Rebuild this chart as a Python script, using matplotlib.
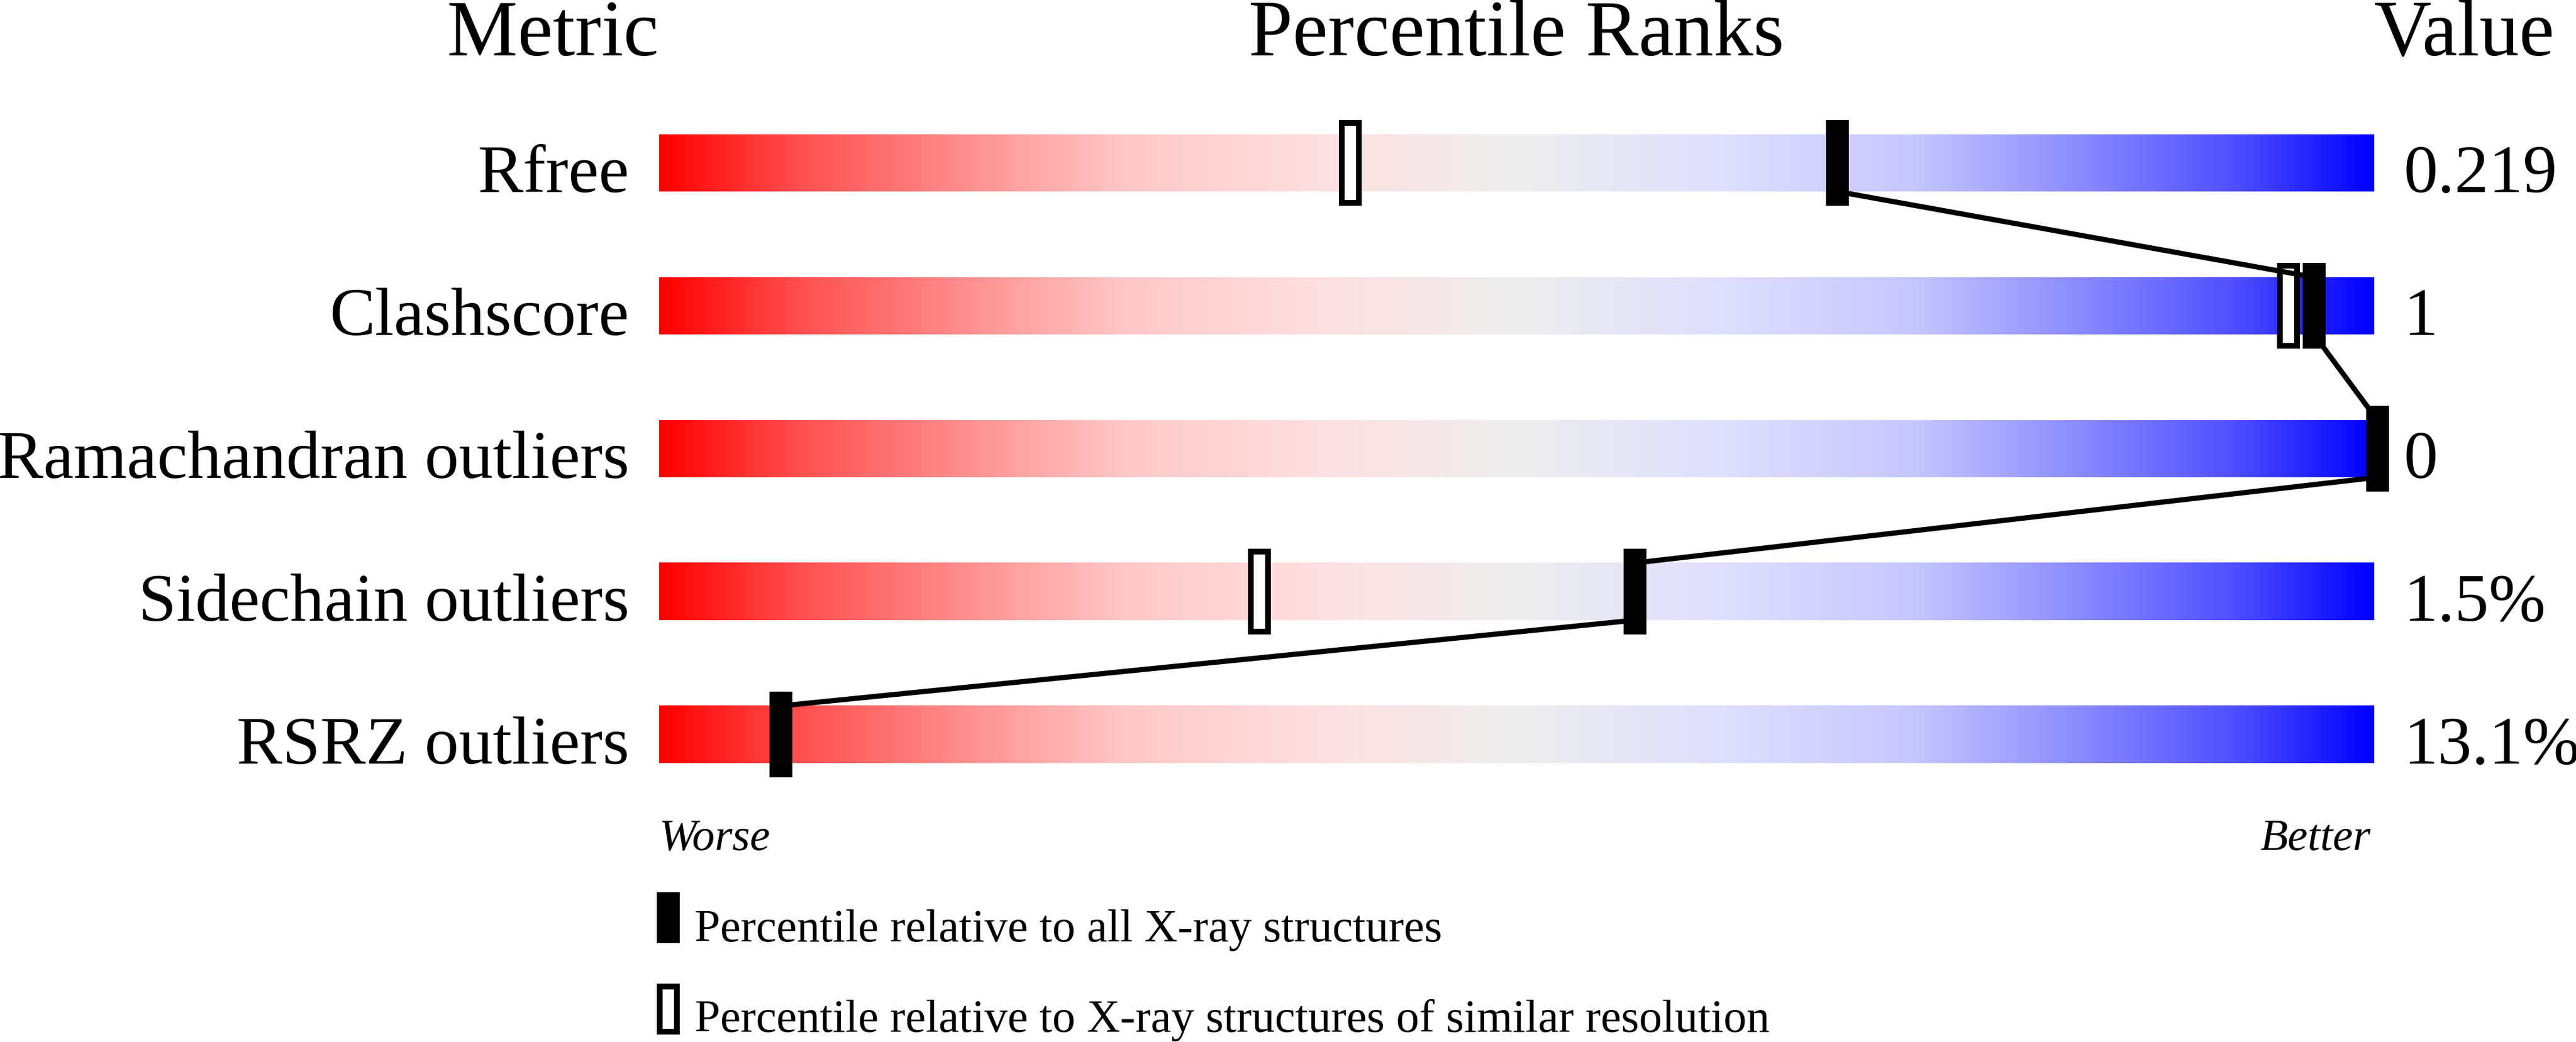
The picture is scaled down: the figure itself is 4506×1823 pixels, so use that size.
import numpy as np
import matplotlib
matplotlib.use("Agg")
import matplotlib.pyplot as plt
from matplotlib.colors import LinearSegmentedColormap
from matplotlib.patches import Rectangle

# %% data
metrics = ["Rfree", "Clashscore", "Ramachandran outliers",
           "Sidechain outliers", "RSRZ outliers"]
values = ["0.219", "1", "0", "1.5%", "13.1%"]
pct_all = [68.7, 96.5, 100.2, 56.9, 7.1]        # all X-ray structures
pct_res = [40.3, 95.0, None, 35.0, None]        # similar resolution
headers = ["Metric", "Percentile Ranks", "Value"]
legend_labels = ["Percentile relative to all X-ray structures",
                 "Percentile relative to X-ray structures of similar resolution"]

plt.rcParams['font.family'] = ['Liberation Serif', 'DejaVu Serif']

W, H, dpi = 4506, 1824, 100
fig = plt.figure(figsize=(W / dpi, H / dpi), dpi=dpi)
# axes spans the slider bars: x 0..100 percentile, one row per metric
bar_l, bar_r, row0, row_h = 1152.5, 4152.5, 286, 250
ax = fig.add_axes([bar_l / W, 1 - (row0 + 4.5 * row_h) / H,
                   (bar_r - bar_l) / W, 5 * row_h / H])
ax.set_xlim(0, 100)
ax.set_ylim(4.5, -0.5)
ax.axis('off')

px = 100 / (bar_r - bar_l)   # one pixel in x data units
py = 1 / row_h               # one pixel in y data units

cmap = LinearSegmentedColormap.from_list("slider", [
    (0.00, (1.00, 0.00, 0.00)),
    (0.08, (1.00, 0.31, 0.31)),
    (0.19, (1.00, 0.59, 0.59)),
    (0.27, (1.00, 0.78, 0.78)),
    (0.38, (1.00, 0.875, 0.88)),
    (0.50, (0.933, 0.933, 0.933)),
    (0.62, (0.875, 0.875, 1.00)),
    (0.73, (0.78, 0.78, 1.00)),
    (0.81, (0.59, 0.59, 1.00)),
    (0.92, (0.31, 0.31, 1.00)),
    (1.00, (0.00, 0.00, 1.00)),
])
grad = np.linspace(0, 1, 1024).reshape(1, -1)

bar_half = 50 * py
mk_w, mk_h = 40 * px, 150 * py
edge = 10  # px border of the open marker

for i, name in enumerate(metrics):
    ax.imshow(grad, cmap=cmap, aspect='auto', interpolation='bilinear',
              extent=(0, 100, i + bar_half, i - bar_half), zorder=1)
    ax.text(-52 * px, i + bar_half, name, ha='right', va='baseline',
            fontsize=86)
    ax.text(100 + 52 * px, i + bar_half, values[i], ha='left', va='baseline',
            fontsize=86)
    if pct_res[i] is not None:
        ax.add_patch(Rectangle((pct_res[i] - (mk_w - edge * px) / 2, i - (mk_h - edge * py) / 2),
                               mk_w - edge * px, mk_h - edge * py,
                               facecolor='white', edgecolor='black',
                               lw=edge * 72 / dpi, joinstyle='miter',
                               clip_on=False, zorder=2))
    ax.add_patch(Rectangle((pct_all[i] - mk_w / 2, i - mk_h / 2), mk_w, mk_h,
                           facecolor='black', lw=0, clip_on=False, zorder=4))

# connecting line: top to bottom of each bar at the marker, then on to the next
xs, ys = [], []
for i, p in enumerate(pct_all):
    xs += [p, p]
    ys += [i - bar_half, i + bar_half]
ax.plot(xs, ys, color='black', lw=6.5, solid_joinstyle='miter',
        clip_on=False, zorder=3)

# headers
hy = (97 - row0) * py
ax.text(0, hy, headers[0], ha='right', va='baseline', fontsize=100)
ax.text(50, hy, headers[1], ha='center', va='baseline', fontsize=100)
ax.text(100, hy, headers[2], ha='left', va='baseline', fontsize=100)

# worse / better
wy = (1487 - row0) * py
ax.text(0, wy, "Worse", ha='left', va='baseline', fontsize=57, style='italic')
ax.text(99.8, wy, "Better", ha='right', va='baseline', fontsize=57, style='italic')

# legend
lg_w, lg_h = 40 * px, 89 * py
lg_x = (1169 - bar_l) * px
for k, (cy, by) in enumerate([(1606.5, 1647), (1766.5, 1805)]):
    cy = (cy - row0) * py
    if k == 0:
        ax.add_patch(Rectangle((lg_x - lg_w / 2, cy - lg_h / 2), lg_w, lg_h,
                               facecolor='black', lw=0, clip_on=False))
    else:
        ax.add_patch(Rectangle((lg_x - (lg_w - edge * px) / 2, cy - (lg_h - edge * py) / 2),
                               lg_w - edge * px, lg_h - edge * py,
                               facecolor='white', edgecolor='black',
                               lw=edge * 72 / dpi, joinstyle='miter', clip_on=False))
    ax.text((1215 - bar_l) * px, (by - row0) * py, legend_labels[k],
            ha='left', va='baseline', fontsize=58)

fig.savefig("out.png", dpi=dpi, facecolor='white')
